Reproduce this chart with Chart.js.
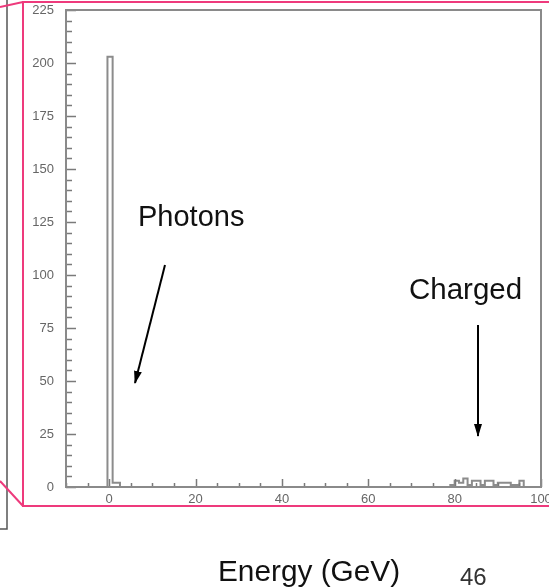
<!DOCTYPE html>
<html>
<head>
<meta charset="utf-8">
<script src="https://cdn.jsdelivr.net/npm/chart.js@4/dist/chart.umd.min.js"></script>
<style>
  html, body { margin: 0; padding: 0; background: #fff; }
  body { width: 549px; height: 588px; position: relative; overflow: hidden; font-family: "Liberation Sans", Arial, sans-serif; }
  #c { position: absolute; left: 0; top: 0; }
  svg { position: absolute; left: 0; top: 0; }
  .lbl { position: absolute; white-space: nowrap; line-height: 1; color: #111; }
</style>
</head>
<body>
<canvas id="c" width="549" height="588"></canvas>
<svg width="549" height="588" viewBox="0 0 549 588">
  <defs>
    <marker id="ah" markerWidth="14" markerHeight="10" refX="12" refY="5" orient="auto" markerUnits="userSpaceOnUse">
      <path d="M0,1 L13,5 L0,9 Z" fill="#000"/>
    </marker>
  </defs>
  <!-- grey slide-frame lines -->
  <polyline points="7,0 7,529 0,529" fill="none" stroke="#555" stroke-width="1.5"/>
  <!-- pink zoom frame -->
  <polyline points="549,2 23,2 23,506 549,506" fill="none" stroke="#ee3a7c" stroke-width="2"/>
  <line x1="0" y1="7" x2="23" y2="2" stroke="#ee3a7c" stroke-width="2"/>
  <line x1="0" y1="481" x2="23" y2="506" stroke="#ee3a7c" stroke-width="2"/>
  <!-- arrows -->
  <line x1="165" y1="265" x2="135" y2="383" stroke="#000" stroke-width="2" marker-end="url(#ah)"/>
  <line x1="478" y1="325" x2="478" y2="436" stroke="#000" stroke-width="2" marker-end="url(#ah)"/>
</svg>
<div class="lbl" style="left:138px; top:202px; font-size:29px;">Photons</div>
<div class="lbl" style="left:409px; top:274px; font-size:29.5px;">Charged</div>
<div class="lbl" style="left:218px; top:556px; font-size:29.8px;">Energy (GeV)</div>
<div class="lbl" style="left:460px; top:565px; font-size:24px; color:#333;">46</div>
<script>
// Histogram: left bin edges and counts (step-before line)
const binEdges  = [-10, -0.4, 0.8, 2.5, 79, 80, 81, 82, 83, 84, 85, 86, 87, 88, 89, 90, 91, 92, 93, 94, 95, 96, 100];
const binCounts = [  0, 203,   2,   0,  1,  3,  2,  4,  1,  3,  3,  1,  3,  3,  1,  2,  2,  2,  1,  1,  3,  0,   0];
const xTicks = [0, 20, 40, 60, 80, 100];
const yTicks = [0, 25, 50, 75, 100, 125, 150, 175, 200, 225];
const xMinorStep = 5, yMinorStep = 5;
const xRange = [-10, 100];
const yRange = [0, 225];

const points = binEdges.map((x, i) => ({ x: x, y: binCounts[i] }));

const axisGrey = '#8a8a8a';
const tickGrey = '#7a7a7a';

const framePlugin = {
  id: 'frameTicks',
  afterDraw(chart) {
    const { ctx, chartArea: a, scales: { x, y } } = chart;
    ctx.save();
    ctx.strokeStyle = tickGrey;
    ctx.lineWidth = 1.5;
    for (let v = yRange[0]; v <= yRange[1]; v += yMinorStep) {
      const py = Math.round(y.getPixelForValue(v)) + 0.5;
      const len = yTicks.includes(v) ? 10 : 6;
      ctx.beginPath(); ctx.moveTo(a.left, py); ctx.lineTo(a.left + len, py); ctx.stroke();
    }
    for (let v = xRange[0]; v <= xRange[1]; v += xMinorStep) {
      const px = Math.round(x.getPixelForValue(v)) + 0.5;
      const len = xTicks.includes(v) ? 8 : 4;
      ctx.beginPath(); ctx.moveTo(px, a.bottom); ctx.lineTo(px, a.bottom - len); ctx.stroke();
    }
    ctx.strokeStyle = axisGrey;
    ctx.lineWidth = 2;
    ctx.strokeRect(a.left, a.top, a.right - a.left, a.bottom - a.top);
    ctx.restore();
  }
};

new Chart(document.getElementById('c'), {
  type: 'line',
  data: {
    datasets: [{
      data: points,
      stepped: true,
      borderColor: '#8c8c8c',
      borderWidth: 2,
      pointRadius: 0,
      fill: false,
      tension: 0
    }]
  },
  options: {
    responsive: false,
    animation: false,
    devicePixelRatio: 1,
    layout: { padding: { left: 0, top: 10, right: 8, bottom: 71 } },
    plugins: { legend: { display: false }, tooltip: { enabled: false } },
    scales: {
      x: {
        type: 'linear',
        min: xRange[0], max: xRange[1],
        grid: { display: false, drawTicks: false },
        border: { display: false },
        afterBuildTicks(scale) { scale.ticks = xTicks.map(v => ({ value: v })); },
        afterFit(scale) { scale.height = 30; scale.paddingLeft = 0; scale.paddingRight = 0; },
        ticks: {
          autoSkip: false, maxRotation: 0, padding: 5,
          color: '#666',
          font: { family: 'Liberation Sans, Arial, sans-serif', size: 13 }
        }
      },
      y: {
        type: 'linear',
        min: yRange[0], max: yRange[1],
        grid: { display: false, drawTicks: false },
        border: { display: false },
        afterBuildTicks(scale) { scale.ticks = yTicks.map(v => ({ value: v })); },
        afterFit(scale) { scale.width = 66; scale.paddingTop = 0; scale.paddingBottom = 0; },
        ticks: {
          autoSkip: false, padding: 12,
          color: '#666',
          font: { family: 'Liberation Sans, Arial, sans-serif', size: 13 }
        }
      }
    }
  },
  plugins: [framePlugin]
});
</script>
</body>
</html>
